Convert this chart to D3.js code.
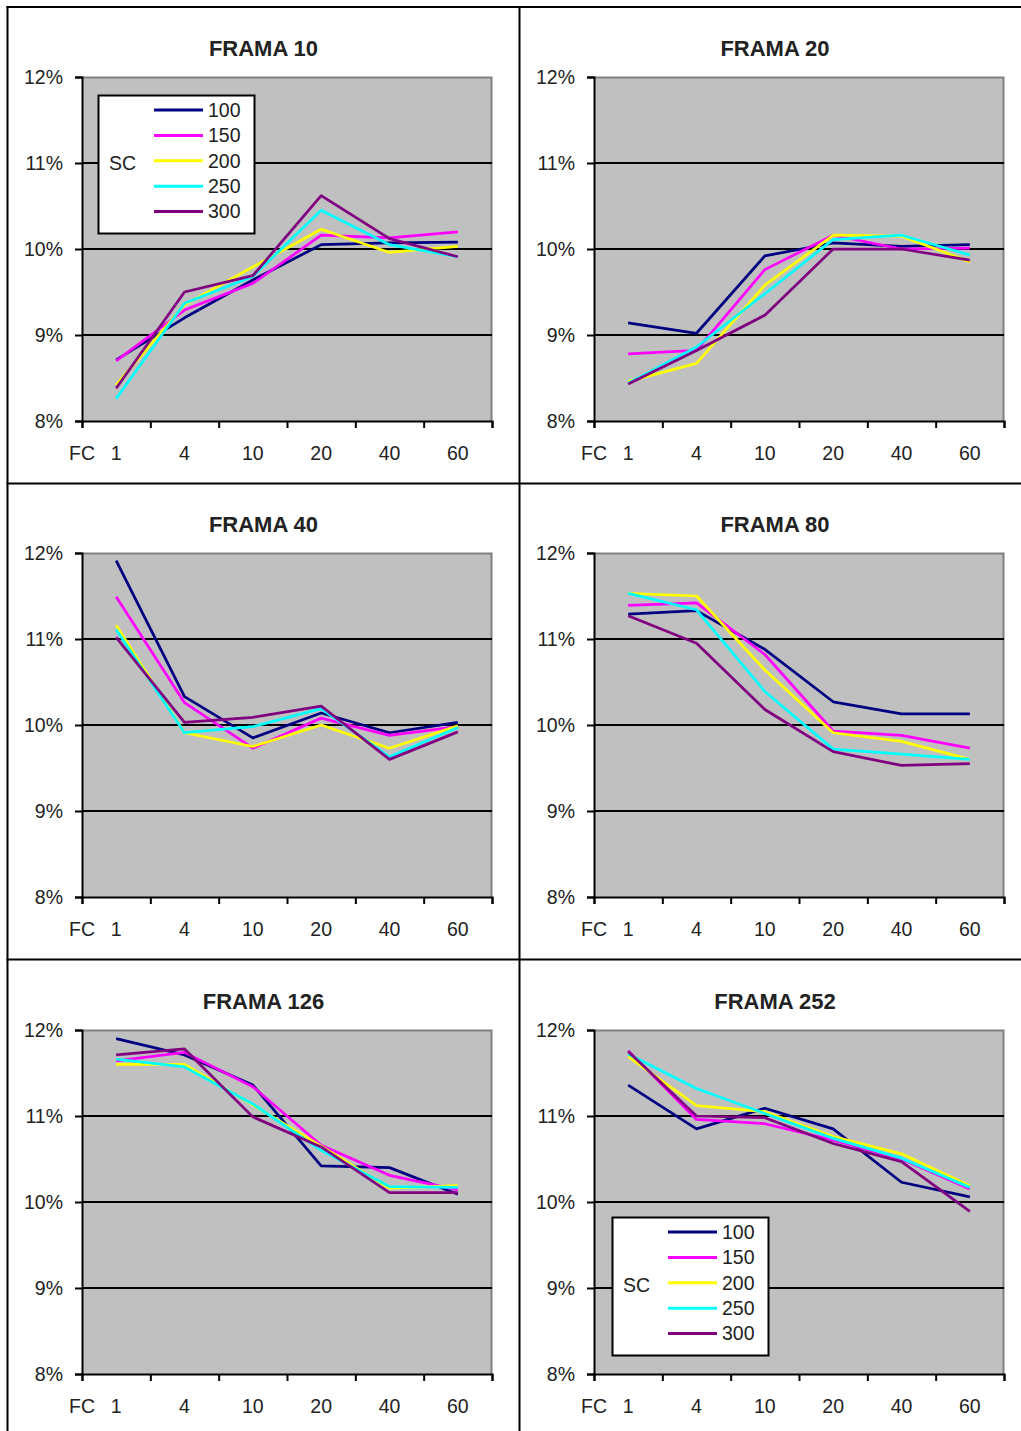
<!DOCTYPE html>
<html>
<head>
<meta charset="utf-8">
<script src="https://cdn.jsdelivr.net/npm/d3@7"></script>
<style>
  html, body { margin: 0; padding: 0; background: #fff; }
  svg { display: block; }
  text { font-family: "Liberation Sans", Arial, sans-serif; fill: #222; }
</style>
</head>
<body>
<svg id="chart" width="1021" height="1431"></svg>
<script>
// categories and series
const fcLabels = ["1", "4", "10", "20", "40", "60"];
const scLabels = ["100", "150", "200", "250", "300"];
const yTicks = [8, 9, 10, 11, 12];
const panelTitles = ["FRAMA 10", "FRAMA 20", "FRAMA 40", "FRAMA 80", "FRAMA 126", "FRAMA 252"];

// values in %, one row per SC, one column per FC
const frama10 = [
    [8.71, 9.20, 9.64, 10.05, 10.07, 10.08],
    [8.70, 9.29, 9.60, 10.16, 10.13, 10.20],
    [8.42, 9.35, 9.79, 10.23, 9.96, 10.03],
    [8.26, 9.37, 9.68, 10.45, 10.05, 9.91],
    [8.38, 9.50, 9.69, 10.62, 10.12, 9.91]
];
const frama20 = [
    [9.14, 9.02, 9.92, 10.07, 10.03, 10.05],
    [8.78, 8.82, 9.76, 10.16, 10.00, 10.01],
    [8.46, 8.67, 9.58, 10.16, 10.15, 9.85],
    [8.44, 8.86, 9.48, 10.11, 10.16, 9.93],
    [8.43, 8.82, 9.23, 10.00, 10.00, 9.87]
];
const frama40 = [
    [11.91, 10.33, 9.85, 10.14, 9.91, 10.03],
    [11.49, 10.26, 9.73, 10.08, 9.88, 9.98],
    [11.16, 9.91, 9.75, 10.00, 9.73, 9.99],
    [11.11, 9.91, 9.98, 10.19, 9.63, 9.97],
    [11.02, 10.03, 10.09, 10.22, 9.60, 9.92]
];
const frama80 = [
    [11.29, 11.33, 10.88, 10.27, 10.13, 10.13],
    [11.39, 11.42, 10.82, 9.93, 9.88, 9.73],
    [11.53, 11.50, 10.64, 9.91, 9.81, 9.60],
    [11.53, 11.34, 10.39, 9.72, 9.66, 9.60],
    [11.27, 10.95, 10.18, 9.69, 9.53, 9.55]
];
const frama126 = [
    [11.90, 11.71, 11.36, 10.42, 10.40, 10.09],
    [11.64, 11.74, 11.34, 10.66, 10.31, 10.14],
    [11.60, 11.60, 11.13, 10.65, 10.16, 10.19],
    [11.66, 11.57, 11.14, 10.60, 10.18, 10.17],
    [11.71, 11.78, 10.99, 10.64, 10.11, 10.11]
];
const frama252 = [
    [11.36, 10.85, 11.09, 10.85, 10.23, 10.06],
    [11.76, 10.96, 10.91, 10.72, 10.50, 10.15],
    [11.69, 11.12, 11.05, 10.76, 10.56, 10.19],
    [11.72, 11.32, 11.03, 10.74, 10.51, 10.17],
    [11.75, 11.00, 10.98, 10.68, 10.47, 9.89]
];
const panelData = [frama10, frama20, frama40, frama80, frama126, frama252];

const lineColors = ["#000080", "#ff00ff", "#ffff00", "#00ffff", "#800080"];

const svg = d3.select("#chart");

// cell frame
const frame = svg.append("g").attr("stroke", "#000").attr("stroke-width", 2);
frame.append("line").attr("x1", 7.5).attr("x2", 7.5).attr("y1", 6).attr("y2", 1431);
frame.append("line").attr("x1", 6.5).attr("x2", 1021).attr("y1", 7).attr("y2", 7);
frame.append("line").attr("x1", 519.5).attr("x2", 519.5).attr("y1", 6).attr("y2", 1431);
frame.append("line").attr("x1", 6.5).attr("x2", 1021).attr("y1", 483.5).attr("y2", 483.5);
frame.append("line").attr("x1", 6.5).attr("x2", 1021).attr("y1", 959.5).attr("y2", 959.5);

const plotW = 410, plotH = 344;
const colLeft = [82, 594];
const colCenter = [263.5, 775];
const rowTop = [77, 553, 1030];

panelData.forEach((data, p) => {
    const col = p % 2, row = Math.floor(p / 2);
    const left = colLeft[col], top = rowTop[row];

    const x = d3.scaleBand().domain(fcLabels).range([0, plotW]);
    const xEdge = d3.scaleLinear().domain([0, fcLabels.length]).range([0, plotW]);
    const y = d3.scaleLinear().domain([8, 12]).range([plotH, 0]);

    // title
    svg.append("text")
        .attr("x", colCenter[col])
        .attr("y", top - 21.5)
        .attr("text-anchor", "middle")
        .style("font-weight", "bold")
        .style("font-size", "22px")
        .text(panelTitles[p]);

    const g = svg.append("g").attr("transform", `translate(${left},${top})`);

    g.append("rect")
        .attr("width", plotW).attr("height", plotH)
        .attr("fill", "#c0c0c0");
    g.append("path")
        .attr("d", `M0,0.5H${plotW - 0.5}V${plotH}`)
        .attr("fill", "none").attr("stroke", "#808080").attr("stroke-width", 2);

    // gridlines
    g.selectAll(".grid")
        .data(yTicks.filter(v => v > 8 && v < 12))
        .enter().append("line")
        .attr("x1", 0).attr("x2", plotW)
        .attr("y1", d => y(d)).attr("y2", d => y(d))
        .attr("stroke", "#000").attr("stroke-width", 2);

    // y axis
    const gY = g.append("g")
        .call(d3.axisLeft(y).tickValues(yTicks).tickFormat(d => d + "%").tickSize(7).tickPadding(12));
    gY.selectAll("path, line").attr("stroke", "#000").attr("stroke-width", 2);
    gY.selectAll("text").style("font-size", "19.5px").attr("fill", "#222").attr("font-family", null);

    // x axis: tick marks at band edges, labels at band centres
    const gXt = g.append("g").attr("transform", `translate(0,${plotH})`)
        .call(d3.axisBottom(xEdge).ticks(fcLabels.length).tickFormat("").tickSize(7).tickSizeOuter(7));
    gXt.selectAll("path, line").attr("stroke", "#000").attr("stroke-width", 2);

    const gXl = g.append("g").attr("transform", `translate(0,${plotH})`)
        .call(d3.axisBottom(x).tickSize(0).tickPadding(25.5));
    gXl.select(".domain").remove();
    gXl.selectAll("text").style("font-size", "19.5px").attr("fill", "#222").attr("font-family", null);

    g.append("text")
        .attr("x", 0).attr("y", plotH + 39)
        .attr("text-anchor", "middle")
        .style("font-size", "19.5px")
        .text("FC");

    // lines
    const line = d3.line()
        .x((d, i) => x(fcLabels[i]) + x.bandwidth() / 2)
        .y(d => y(d));

    g.selectAll(".series")
        .data(data)
        .enter().append("path")
        .attr("class", "series")
        .attr("d", d => line(d))
        .attr("fill", "none")
        .attr("stroke", (d, i) => lineColors[i])
        .attr("stroke-width", 2.75)
        .attr("stroke-linejoin", "round");
});

// legends
function drawLegend(bx, by) {
    const lg = svg.append("g").attr("transform", `translate(${bx},${by})`);
    lg.append("rect")
        .attr("x", 0.5).attr("y", 0.5)
        .attr("width", 156).attr("height", 138)
        .attr("fill", "#fff").attr("stroke", "#000").attr("stroke-width", 2);
    lg.append("text")
        .attr("x", 11).attr("y", 68).attr("dy", "0.35em")
        .style("font-size", "19.5px")
        .text("SC");
    const items = lg.selectAll(".item")
        .data(scLabels)
        .enter().append("g")
        .attr("transform", (d, i) => `translate(0,${15 + i * 25.4})`);
    items.append("line")
        .attr("x1", 56).attr("x2", 105)
        .attr("stroke", (d, i) => lineColors[i])
        .attr("stroke-width", 3);
    items.append("text")
        .attr("x", 110).attr("dy", "0.35em")
        .style("font-size", "19.5px")
        .text(d => d);
}
drawLegend(98, 95);
drawLegend(612, 1217);
</script>
</body>
</html>
